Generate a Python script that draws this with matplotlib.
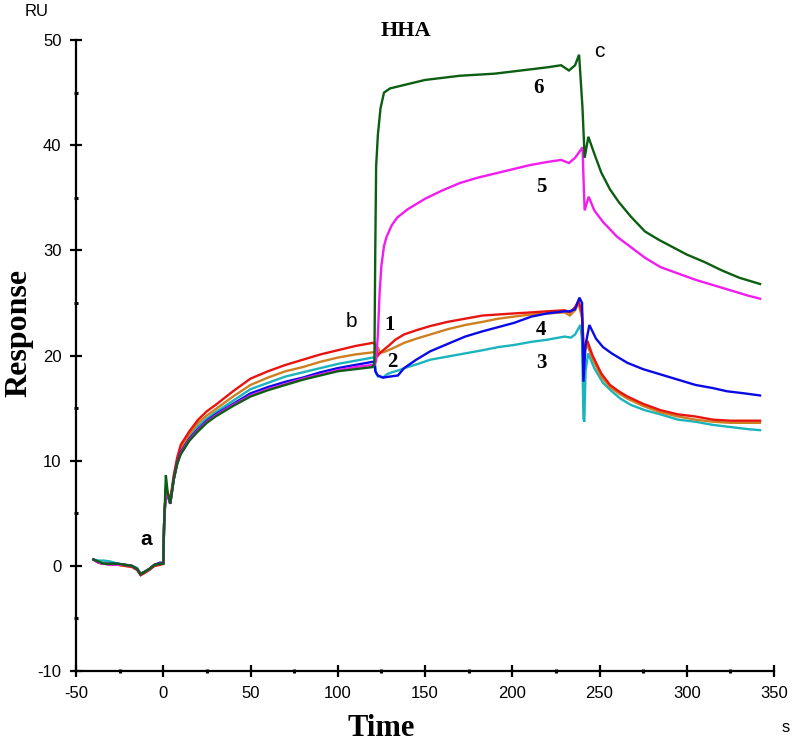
import matplotlib
matplotlib.use("Agg")
import matplotlib.pyplot as plt
from matplotlib.ticker import MultipleLocator

plt.rcParams["axes.unicode_minus"] = False

# ---------------- data ----------------
# association phase (shared time grid)
t_assoc = [-40, -37, -34, -30, -26, -22, -18, -15, -13, -11, -8, -5, -2, 0,
           0.5, 1.5, 2.5, 4, 6, 8, 10, 15, 20, 25, 30, 40, 50, 60, 70, 80,
           90, 100, 110, 120]

y1_assoc = [0.6, 0.3, 0.2, 0.1, 0.1, 0.0, -0.1, -0.4, -0.9, -0.7, -0.4, 0.0, 0.1, 0.2,
            4.0, 7.5, 7.0, 6.2, 8.6, 10.3, 11.5, 12.8, 13.9, 14.7, 15.3, 16.6, 17.8,
            18.5, 19.1, 19.6, 20.1, 20.5, 20.9, 21.2]
y2_assoc = [0.6, 0.3, 0.2, 0.2, 0.1, 0.0, -0.1, -0.3, -0.8, -0.7, -0.3, 0.0, 0.1, 0.2,
            4.0, 7.4, 6.9, 6.1, 8.4, 10.1, 11.2, 12.5, 13.6, 14.3, 14.9, 16.1, 17.2,
            17.9, 18.5, 18.9, 19.4, 19.8, 20.1, 20.3]
y3_assoc = [0.6, 0.5, 0.5, 0.4, 0.2, 0.1, 0.0, -0.2, -0.7, -0.6, -0.3, 0.1, 0.2, 0.2,
            4.0, 7.4, 6.8, 6.0, 8.3, 9.9, 11.0, 12.3, 13.3, 14.0, 14.6, 15.7, 16.8,
            17.4, 18.0, 18.4, 18.8, 19.2, 19.5, 19.8]
y4_assoc = [0.6, 0.3, 0.2, 0.2, 0.2, 0.1, 0.0, -0.3, -0.8, -0.6, -0.3, 0.1, 0.3, 0.3,
            4.0, 7.3, 6.7, 5.9, 8.2, 9.8, 10.8, 12.1, 13.0, 13.8, 14.4, 15.4, 16.4,
            17.0, 17.5, 17.9, 18.4, 18.8, 19.1, 19.4]
y5_assoc = [0.6, 0.3, 0.2, 0.1, 0.1, 0.1, 0.0, -0.3, -0.8, -0.6, -0.3, 0.1, 0.2, 0.2,
            4.0, 7.3, 6.7, 5.9, 8.2, 9.7, 10.7, 12.0, 12.9, 13.7, 14.3, 15.3, 16.2,
            16.8, 17.3, 17.8, 18.2, 18.6, 18.9, 19.1]
y6_assoc = [0.6, 0.4, 0.2, 0.2, 0.2, 0.1, 0.0, -0.3, -0.8, -0.6, -0.3, 0.1, 0.2, 0.2,
            4.0, 8.6, 7.0, 5.9, 8.2, 9.7, 10.6, 11.9, 12.8, 13.6, 14.2, 15.2, 16.1,
            16.7, 17.2, 17.7, 18.1, 18.5, 18.7, 18.9]

# second injection + dissociation (per curve)
t1_b = [121, 122, 123, 124, 126, 129, 133, 138, 145, 153, 163, 173, 183, 192, 201,
        211, 220, 230, 233, 236, 238, 240, 241, 243, 246, 251, 256, 261, 266, 275,
        285, 295, 305, 315, 325, 335, 342]
y1_b = [21.2, 20.6, 20.0, 20.2, 20.5, 20.9, 21.5, 22.0, 22.4, 22.8, 23.2, 23.5, 23.8,
        23.9, 24.0, 24.1, 24.2, 24.3, 24.1, 24.6, 25.2, 24.0, 20.5, 21.4, 20.0, 18.3,
        17.2, 16.6, 16.1, 15.4, 14.8, 14.4, 14.2, 13.9, 13.8, 13.8, 13.8]

t2_b = t1_b
y2_b = [20.3, 20.3, 20.8, 20.3, 20.3, 20.5, 20.8, 21.2, 21.6, 22.0, 22.5, 22.9, 23.2,
        23.5, 23.7, 23.9, 24.0, 24.1, 23.8, 24.3, 25.0, 23.5, 20.3, 21.0, 19.7, 18.0,
        17.0, 16.4, 15.9, 15.2, 14.6, 14.2, 13.9, 13.7, 13.6, 13.6, 13.6]

t3_b = [121, 122, 123, 124, 126, 128, 131, 135, 140, 146, 153, 163, 173, 183, 192,
        201, 211, 220, 230, 233.6, 236, 239, 240, 240.8, 241.3, 242, 243.5, 247, 252,
        257, 262, 268, 276, 285, 295, 305, 315, 325, 335, 342]
y3_b = [19.8, 18.3, 18.0, 18.0, 17.9, 18.2, 18.4, 18.6, 18.9, 19.2, 19.6, 19.9, 20.2,
        20.5, 20.8, 21.0, 21.3, 21.5, 21.8, 21.7, 22.0, 22.9, 21.5, 14.0, 13.7, 18.5,
        20.2, 18.8, 17.4, 16.6, 15.9, 15.3, 14.8, 14.4, 13.9, 13.7, 13.4, 13.2, 13.0,
        12.9]

t4_b = [121, 121.5, 123, 126, 130, 134.5, 138, 145, 153, 163, 173, 183, 192, 201, 211,
        220, 230, 233, 236, 238.5, 240, 240.8, 242, 244.2, 248, 252, 257, 262, 266,
        275, 285, 295, 305, 315, 323, 333, 342]
y4_b = [19.4, 18.5, 18.1, 17.9, 18.0, 18.1, 18.8, 19.6, 20.4, 21.1, 21.8, 22.3, 22.7,
        23.1, 23.7, 24.0, 24.2, 24.2, 24.4, 25.5, 25.0, 17.5, 21.0, 22.9, 21.6, 20.8,
        20.2, 19.7, 19.3, 18.7, 18.2, 17.7, 17.2, 16.9, 16.6, 16.4, 16.2]

t5_b = [121, 122, 123, 124, 125, 126.5, 128, 131, 134, 140, 150, 160, 170, 180, 190,
        200, 210, 220, 228, 232.5, 236, 240.3, 241, 241.5, 243.8, 247, 252, 260, 268,
        276, 285, 295, 305, 315, 325, 335, 342]
y5_b = [19.1, 19.5, 22.0, 26.0, 28.5, 30.4, 31.3, 32.4, 33.1, 33.9, 34.9, 35.7, 36.4,
        36.9, 37.3, 37.7, 38.1, 38.4, 38.6, 38.3, 38.8, 39.8, 36.0, 33.8, 35.1, 33.8,
        32.7, 31.3, 30.3, 29.3, 28.4, 27.8, 27.2, 26.7, 26.2, 25.7, 25.4]

t6_b = [121, 121.5, 122, 123, 124.5, 126.5, 130, 140, 150, 160, 170, 180, 190, 200,
        210, 220, 228, 232.5, 236, 238.3, 240.2, 241.5, 243.6, 247, 251, 256, 261, 268,
        276, 284, 292, 300, 310, 320, 330, 342]
y6_b = [19.3, 30.0, 38.0, 41.0, 43.5, 45.0, 45.4, 45.8, 46.2, 46.4, 46.6, 46.7, 46.8,
        47.0, 47.2, 47.4, 47.6, 47.1, 47.6, 48.6, 43.7, 38.8, 40.8, 39.2, 37.4, 35.8,
        34.6, 33.2, 31.8, 31.0, 30.3, 29.6, 28.9, 28.1, 27.4, 26.8]

colors = {"1": "#e8140f", "2": "#cf7f1f", "3": "#1cb4bc", "4": "#0a0ae6",
          "5": "#f21cf0", "6": "#0b5e12"}

x_ticks = [-50, 0, 50, 100, 150, 200, 250, 300, 350]
y_ticks = [-10, 0, 10, 20, 30, 40, 50]

curve_labels = [("1", 129.5, 22.9), ("2", 131.0, 19.4), ("3", 216.5, 19.3),
                ("4", 216.5, 22.4), ("5", 216.5, 36.0), ("6", 215.3, 45.4)]
letter_labels = [("a", -9.7, 2.5), ("b", 107.7, 23.2), ("c", 250.0, 48.9)]

# ---------------- figure ----------------
W, H = 796, 746
fig = plt.figure(figsize=(W / 100, H / 100), dpi=100)
ax = fig.add_axes([76 / W, 1 - 671 / H, (774 - 76) / W, (671 - 40) / H])

series = [("3", y3_assoc, t3_b, y3_b), ("2", y2_assoc, t2_b, y2_b),
          ("1", y1_assoc, t1_b, y1_b), ("4", y4_assoc, t4_b, y4_b),
          ("5", y5_assoc, t5_b, y5_b), ("6", y6_assoc, t6_b, y6_b)]
for key, ya, tb, yb in series:
    ax.plot(list(t_assoc) + list(tb), list(ya) + list(yb), color=colors[key],
            lw=1.7, solid_joinstyle="miter")

ax.set_xlim(-50, 350)
ax.set_ylim(-10, 50)
ax.set_xticks(x_ticks)
ax.set_yticks(y_ticks)
ax.xaxis.set_minor_locator(MultipleLocator(25))
ax.yaxis.set_minor_locator(MultipleLocator(5))
for s in ["top", "right"]:
    ax.spines[s].set_visible(False)
for s in ["left", "bottom"]:
    ax.spines[s].set_linewidth(1.6)
ax.tick_params(which="major", direction="inout", length=9, width=1.6,
               labelsize=12, pad=6)
ax.tick_params(which="minor", direction="inout", length=2.5, width=2.2)
for lab in ax.get_xticklabels() + ax.get_yticklabels():
    lab.set_fontfamily("Liberation Sans")

for txt, x, y in curve_labels:
    ax.text(x, y, txt, fontsize=15, fontweight="bold", family="Liberation Serif",
            ha="center", va="center")
ax.text(letter_labels[0][1], letter_labels[0][2], "a", fontsize=15, fontweight="bold",
        family="Liberation Sans", ha="center", va="center")
ax.text(letter_labels[1][1], letter_labels[1][2], "b", fontsize=15,
        family="Liberation Sans", ha="center", va="center")
ax.text(letter_labels[2][1], letter_labels[2][2], "c", fontsize=15,
        family="Liberation Sans", ha="center", va="center")

fig.text(406 / W, 1 - 31 / H, "HHA", fontsize=16, fontweight="bold",
         family="Liberation Serif", ha="center", va="center")
fig.text(37 / W, 1 - 12 / H, "RU", fontsize=12, family="Liberation Sans",
         ha="center", va="center")
fig.text(786 / W, 1 - 727 / H, "s", fontsize=12, family="Liberation Sans",
         ha="center", va="center")
fig.text(381 / W, 1 - 728 / H, "Time", fontsize=22, fontweight="bold",
         family="Liberation Serif", ha="center", va="center")
fig.text(19 / W, 1 - 333 / H, "Response", fontsize=23, fontweight="bold",
         family="Liberation Serif", ha="center", va="center", rotation=90)

fig.savefig("out.png", dpi=100)
